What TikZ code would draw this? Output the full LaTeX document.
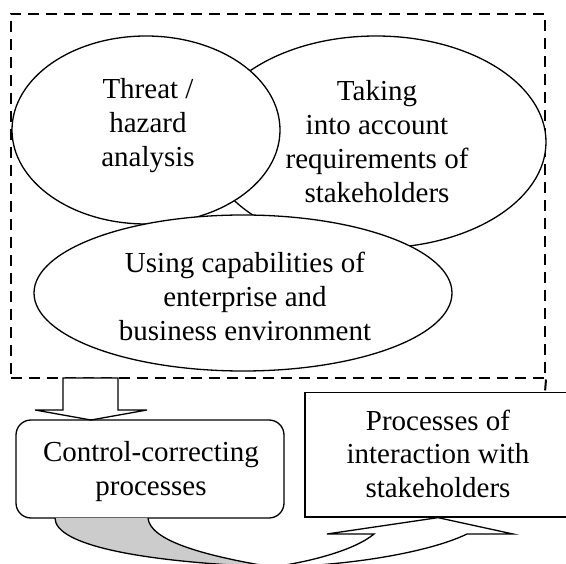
\documentclass[tikz,border=0pt]{standalone}
\usepackage{fontspec}
\setmainfont{Liberation Serif}
\usetikzlibrary{shapes.geometric}
\begin{document}
\begin{tikzpicture}[x=1pt,y=-1pt,
  line width=1.3pt,
  oval/.style={ellipse, draw, fill=white, inner sep=0pt},
  lbl/.style={inner sep=0pt, align=center, font=\fontsize{29}{34}\selectfont},
  framebox/.style={draw, line width=2pt, dash pattern=on 11pt off 7pt},
  grayband/.style={fill=gray!40},
]
\useasboundingbox[fill=white] (0,0) rectangle (566,564);

% dashed frame
\node[framebox, minimum width=534.5pt, minimum height=364pt, inner sep=0pt] (frm) at (277.75,196.5) {};
\coordinate (ext) at (545,392);
\draw[framebox] (frm.south east) -- (ext);

% ellipses
\node[oval, minimum width=340pt, minimum height=212pt] (e2) at (376,142) {};
\node[oval, minimum width=268pt, minimum height=188pt] (e1) at (146,130) {};
\node[oval, minimum width=418pt, minimum height=156pt] (e3) at (243,293) {};

\node[lbl] (t1) at (148,126.2) {\strut Threat /\\\strut hazard\\\strut analysis};
\node[lbl] (t2) at (377,145.2) {\strut Taking\\\strut into account\\\strut requirements of\\\strut stakeholders};
\node[lbl] (t3) at (245,299.7) {\strut Using capabilities of\\\strut enterprise and\\\strut business environment};

% down block arrow
\draw[fill=white, line join=miter] (63,378) -- (63,410) -- (35,410) -- (91,420) -- (147,410) -- (118,410) -- (118,378) -- cycle;

% boxes
\node[draw, rounded corners=15pt, minimum width=268pt, minimum height=98pt, inner sep=0pt] (cc) at (150,469) {};
\node[lbl] (t4) at (151,472.2) {\strut Control-correcting\\\strut processes};

\node[draw, minimum width=266pt, minimum height=124.5pt, inner sep=0pt] (pi) at (438,454.75) {};
\node[lbl] (t5) at (438,457.2) {\strut Processes of\\\strut interaction with\\\strut stakeholders};

% curved up arrow
\coordinate (B) at (272,567);
\fill[grayband] (55,518) .. controls (55,545) and (140,562) .. (B) .. controls (200,555) and (150,540) .. (148,518) -- cycle;
\draw (55,518) .. controls (55,545) and (140,562) .. (B);
\draw (148,518) .. controls (150,540) and (200,555) .. (B);
\draw[fill=white, line join=miter] (B) .. controls (350,566) and (430,552) .. (467,534) -- (513,534) -- (pi.south) -- (327,534) -- (374,534) .. controls (355,550) and (310,562) .. (B) -- cycle;
\end{tikzpicture}
\end{document}
